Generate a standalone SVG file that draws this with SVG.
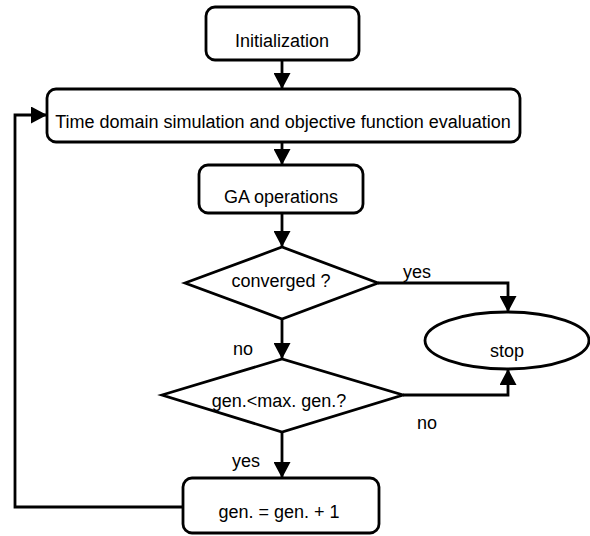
<svg xmlns="http://www.w3.org/2000/svg" width="590" height="536" viewBox="0 0 590 536">
<defs>
<marker id="ah" markerUnits="userSpaceOnUse" markerWidth="17" markerHeight="17" viewBox="0 0 16 17" refX="16" refY="8.5" orient="auto">
<path d="M0,0 L16,8.5 L0,17 z" fill="#000"/>
</marker>
<style>
.box{fill:#fff;stroke:#000;stroke-width:2.8}
.t{font-family:"Liberation Sans",Arial,sans-serif;font-size:18px;fill:#000;text-anchor:middle}
.l{font-family:"Liberation Sans",Arial,sans-serif;font-size:18px;fill:#000}
.c{fill:none;stroke:#000;stroke-width:2.8}
</style>
</defs>
<rect width="590" height="536" fill="#fff"/>
<g id="connectors">
<path class="c" d="M282,60 L282,89" marker-end="url(#ah)"/>
<path class="c" d="M282,142 L282,165" marker-end="url(#ah)"/>
<path class="c" d="M282,213 L282,247" marker-end="url(#ah)"/>
<path class="c" d="M282,319 L282,359" marker-end="url(#ah)"/>
<path class="c" d="M378,283 L508,283 L508,312" marker-end="url(#ah)"/>
<path class="c" d="M403,395 L508,395 L508,369" marker-end="url(#ah)"/>
<path class="c" d="M282,432 L282,478" marker-end="url(#ah)"/>
<path class="c" d="M183,507 L15,507 L15,115 L47,115" marker-end="url(#ah)"/>
<text class="l" x="403" y="278">yes</text>
<text class="l" x="233" y="355">no</text>
<text class="l" x="417" y="429">no</text>
<text class="l" x="232" y="467">yes</text>
</g>
<g id="init">
<rect class="box" x="206" y="7" width="153" height="53" rx="9"/>
<text class="t" x="282" y="46.5">Initialization</text>
</g>
<g id="sim">
<rect class="box" x="47" y="89" width="473" height="53" rx="9"/>
<text class="t" x="283" y="128">Time domain simulation and objective function evaluation</text>
</g>
<g id="ga">
<rect class="box" x="199" y="165" width="164" height="48" rx="9"/>
<text class="t" x="281" y="203">GA operations</text>
</g>
<g id="converged">
<polygon class="box" points="185,283 282,247 378,283 282,319"/>
<text class="t" x="281" y="287">converged ?</text>
</g>
<g id="stop">
<ellipse class="box" cx="507" cy="340.5" rx="82" ry="28.5"/>
<text class="t" x="507" y="357">stop</text>
</g>
<g id="maxgen">
<polygon class="box" points="162,395 282,359 403,395 282,432"/>
<text class="t" x="279" y="407">gen.&lt;max. gen.?</text>
</g>
<g id="incr">
<rect class="box" x="183" y="478" width="196" height="55" rx="9"/>
<text class="t" x="279" y="518">gen. = gen. + 1</text>
</g>
</svg>
